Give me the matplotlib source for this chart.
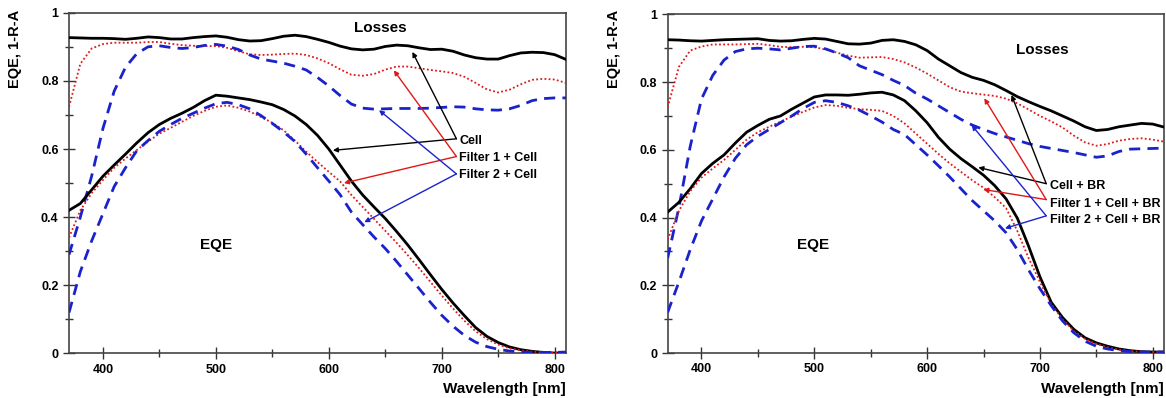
import matplotlib
matplotlib.use("Agg")
import matplotlib.pyplot as plt
from matplotlib.ticker import MultipleLocator, FormatStrFormatter

plt.rcParams['font.family'] = ['Liberation Sans', 'DejaVu Sans']
plt.rcParams['font.weight'] = 'bold'

wavelength = list(range(370, 811, 10))

# left panel: cell without back reflector
cell_loss = [0.927, 0.926, 0.925, 0.925, 0.924, 0.922, 0.925, 0.929, 0.927, 0.923, 0.923, 0.927, 0.930, 0.932, 0.928,
             0.921, 0.917, 0.918, 0.924, 0.931, 0.934, 0.930, 0.922, 0.913, 0.902, 0.894, 0.891, 0.893, 0.901, 0.905,
             0.903, 0.897, 0.892, 0.893, 0.887, 0.876, 0.868, 0.864, 0.864, 0.874, 0.882, 0.884, 0.883, 0.877, 0.863]
f1_loss = [0.724, 0.850, 0.895, 0.908, 0.912, 0.912, 0.912, 0.914, 0.914, 0.909, 0.905, 0.903, 0.902, 0.902, 0.897,
           0.887, 0.878, 0.876, 0.877, 0.879, 0.880, 0.876, 0.866, 0.852, 0.834, 0.818, 0.815, 0.820, 0.833, 0.842,
           0.842, 0.837, 0.832, 0.828, 0.823, 0.812, 0.794, 0.775, 0.766, 0.774, 0.790, 0.803, 0.806, 0.804, 0.794]
f2_loss = [0.29, 0.40, 0.52, 0.66, 0.77, 0.84, 0.88, 0.900, 0.903, 0.898, 0.895, 0.898, 0.904, 0.907, 0.902,
           0.892, 0.876, 0.864, 0.858, 0.852, 0.843, 0.832, 0.810, 0.785, 0.757, 0.732, 0.720, 0.717, 0.718, 0.719,
           0.719, 0.719, 0.720, 0.722, 0.724, 0.723, 0.718, 0.715, 0.714, 0.718, 0.728, 0.742, 0.748, 0.750, 0.750]
cell_eqe = [0.42, 0.44, 0.48, 0.52, 0.553, 0.585, 0.618, 0.648, 0.672, 0.69, 0.705, 0.722, 0.742, 0.758, 0.755,
            0.75, 0.745, 0.738, 0.73, 0.716, 0.697, 0.672, 0.64, 0.60, 0.553, 0.506, 0.465, 0.43, 0.396, 0.358,
            0.318, 0.275, 0.231, 0.188, 0.148, 0.111, 0.076, 0.050, 0.032, 0.019, 0.011, 0.006, 0.003, 0.001, 0.002]
f1_eqe = [0.34, 0.42, 0.47, 0.509, 0.545, 0.572, 0.597, 0.622, 0.645, 0.662, 0.68, 0.697, 0.712, 0.724, 0.728,
          0.721, 0.71, 0.694, 0.677, 0.655, 0.625, 0.592, 0.562, 0.533, 0.505, 0.465, 0.43, 0.395, 0.36, 0.325,
          0.288, 0.25, 0.21, 0.17, 0.132, 0.096, 0.065, 0.042, 0.026, 0.015, 0.009, 0.005, 0.003, 0.002, 0.003]
f2_eqe = [0.12, 0.24, 0.33, 0.41, 0.49, 0.545, 0.595, 0.625, 0.652, 0.672, 0.69, 0.705, 0.72, 0.733, 0.737,
          0.73, 0.718, 0.698, 0.675, 0.65, 0.622, 0.585, 0.545, 0.506, 0.466, 0.415, 0.378, 0.342, 0.308, 0.27,
          0.23, 0.19, 0.15, 0.112, 0.08, 0.053, 0.033, 0.02, 0.012, 0.007, 0.004, 0.003, 0.003, 0.003, 0.004]

# right panel: cell with back reflector
br_cell_loss = [0.925, 0.924, 0.922, 0.921, 0.923, 0.925, 0.926, 0.927, 0.928, 0.923, 0.921, 0.922, 0.926, 0.929, 0.927,
                0.920, 0.913, 0.912, 0.915, 0.923, 0.925, 0.920, 0.910, 0.893, 0.868, 0.848, 0.828, 0.814, 0.805, 0.792,
                0.775, 0.757, 0.742, 0.728, 0.715, 0.700, 0.685, 0.668, 0.657, 0.660, 0.668, 0.673, 0.678, 0.676, 0.667]
br_f1_loss = [0.726, 0.845, 0.893, 0.905, 0.911, 0.911, 0.911, 0.912, 0.913, 0.909, 0.904, 0.903, 0.904, 0.903, 0.896,
              0.887, 0.878, 0.872, 0.873, 0.874, 0.868, 0.858, 0.843, 0.825, 0.805, 0.785, 0.772, 0.767, 0.763, 0.759,
              0.751, 0.737, 0.719, 0.700, 0.684, 0.666, 0.642, 0.622, 0.612, 0.617, 0.627, 0.632, 0.634, 0.630, 0.624]
br_f2_loss = [0.28, 0.43, 0.61, 0.75, 0.82, 0.865, 0.89, 0.898, 0.90, 0.898, 0.895, 0.90, 0.905, 0.906, 0.898,
              0.886, 0.872, 0.848, 0.835, 0.822, 0.805, 0.79, 0.767, 0.75, 0.73, 0.71, 0.69, 0.673, 0.66, 0.648,
              0.638, 0.628, 0.618, 0.61, 0.604, 0.598, 0.592, 0.585, 0.578, 0.582, 0.595, 0.602, 0.603, 0.604, 0.605]
br_cell_eqe = [0.416, 0.445, 0.485, 0.53, 0.56, 0.585, 0.62, 0.652, 0.672, 0.69, 0.70, 0.72, 0.738, 0.756, 0.762,
               0.762, 0.761, 0.764, 0.768, 0.770, 0.762, 0.745, 0.715, 0.68, 0.637, 0.602, 0.574, 0.55, 0.525, 0.494,
               0.455, 0.398, 0.315, 0.225, 0.15, 0.105, 0.07, 0.045, 0.03, 0.02, 0.012, 0.007, 0.004, 0.003, 0.003]
br_f1_eqe = [0.335, 0.42, 0.478, 0.518, 0.545, 0.57, 0.60, 0.63, 0.652, 0.668, 0.683, 0.698, 0.712, 0.725, 0.732,
             0.73, 0.724, 0.72, 0.718, 0.715, 0.70, 0.678, 0.648, 0.618, 0.588, 0.56, 0.535, 0.51, 0.488, 0.46,
             0.428, 0.36, 0.28, 0.21, 0.145, 0.10, 0.065, 0.042, 0.027, 0.017, 0.01, 0.006, 0.004, 0.003, 0.003]
br_f2_eqe = [0.12, 0.21, 0.305, 0.39, 0.455, 0.52, 0.575, 0.615, 0.64, 0.66, 0.68, 0.70, 0.722, 0.74, 0.745,
             0.74, 0.73, 0.717, 0.70, 0.682, 0.66, 0.645, 0.615, 0.585, 0.553, 0.52, 0.485, 0.45, 0.42, 0.39,
             0.355, 0.305, 0.245, 0.19, 0.14, 0.095, 0.06, 0.035, 0.02, 0.012, 0.007, 0.004, 0.003, 0.003, 0.003]

left_labels = ["Cell", "Filter 1 + Cell", "Filter 2 + Cell"]
right_labels = ["Cell + BR", "Filter 1 + Cell + BR", "Filter 2 + Cell + BR"]

BLACK = "black"
RED = "#e01818"
BLUE = "#1a22cc"


def draw_curves(ax, loss, eqe):
    for c, r, b in (loss, eqe):
        ax.plot(wavelength, c, color=BLACK, lw=2.0, zorder=3)
        ax.plot(wavelength, r, color=RED, lw=1.3, ls=(0, (1, 1.3)), zorder=3)
        ax.plot(wavelength, b, color=BLUE, lw=2.0, ls=(0, (4, 2.6)), zorder=3)


def style_axes(ax):
    ax.set_xlim(370, 810)
    ax.set_ylim(0, 1)
    ax.xaxis.set_major_locator(MultipleLocator(100))
    ax.xaxis.set_minor_locator(MultipleLocator(50))
    ax.yaxis.set_major_locator(MultipleLocator(0.2))
    ax.yaxis.set_minor_locator(MultipleLocator(0.1))
    ax.yaxis.set_major_formatter(FormatStrFormatter('%g'))
    ax.tick_params(which='major', direction='inout', length=8, width=1, labelsize=9, colors='#333333',
                   labelcolor='black')
    ax.tick_params(which='minor', direction='inout', length=6, width=1, colors='#333333')
    for s in ax.spines.values():
        s.set_color('#444444')
        s.set_linewidth(1.2)
    ax.text(1.0, -0.085, "Wavelength [nm]", transform=ax.transAxes, ha='right', va='top',
            fontsize=11, fontweight='bold')


def pointer(ax, labels, text_x, text_ys, vertices, tips):
    colors = [BLACK, RED, BLUE]
    for lab, ty, vtx, (t1, t2), c in zip(labels, text_ys, vertices, tips, colors):
        ax.text(text_x, ty, lab, ha='left', va='center', fontsize=9, fontweight='bold', zorder=5)
        for tip in (t1, t2):
            ax.annotate('', xy=tip, xytext=vtx,
                        arrowprops=dict(arrowstyle='-|>', color=c, lw=1.0, mutation_scale=7,
                                        shrinkA=0, shrinkB=0), zorder=4)


fig = plt.figure(figsize=(11.66, 3.98), dpi=100)
ax1 = fig.add_axes([0.0592, 0.112, 0.4262, 0.856])
ax2 = fig.add_axes([0.5726, 0.113, 0.4257, 0.851])

draw_curves(ax1, (cell_loss, f1_loss, f2_loss), (cell_eqe, f1_eqe, f2_eqe))
draw_curves(ax2, (br_cell_loss, br_f1_loss, br_f2_loss), (br_cell_eqe, br_f1_eqe, br_f2_eqe))

for ax in (ax1, ax2):
    style_axes(ax)

ax1.text(646, 0.956, "Losses", ha='center', va='center', fontsize=11, fontweight='bold')
ax1.text(500, 0.319, "EQE", ha='center', va='center', fontsize=11, fontweight='bold')
ax2.text(702, 0.896, "Losses", ha='center', va='center', fontsize=11, fontweight='bold')
ax2.text(499, 0.318, "EQE", ha='center', va='center', fontsize=11, fontweight='bold')

pointer(ax1, left_labels, 715.5, [0.6225, 0.5735, 0.525],
        [(713, 0.63), (713, 0.578), (713, 0.527)],
        [((674, 0.885), (603.6, 0.596)), ((657.6, 0.831), (613.4, 0.50)), ((644.5, 0.714), (631.4, 0.385))])
pointer(ax2, right_labels, 708.6, [0.492, 0.441, 0.392],
        [(705.6, 0.50), (705.6, 0.453), (705.6, 0.405)],
        [((674.8, 0.762), (645.4, 0.548)), ((650.7, 0.752), (649.8, 0.483)), ((639.5, 0.673), (669, 0.368))])

for x0 in (0.013, 0.527):
    fig.text(x0, 0.975, "EQE, 1-R-A", rotation=90, ha='center', va='top', fontsize=10.5, fontweight='bold')

fig.savefig("out.png", dpi=100)
